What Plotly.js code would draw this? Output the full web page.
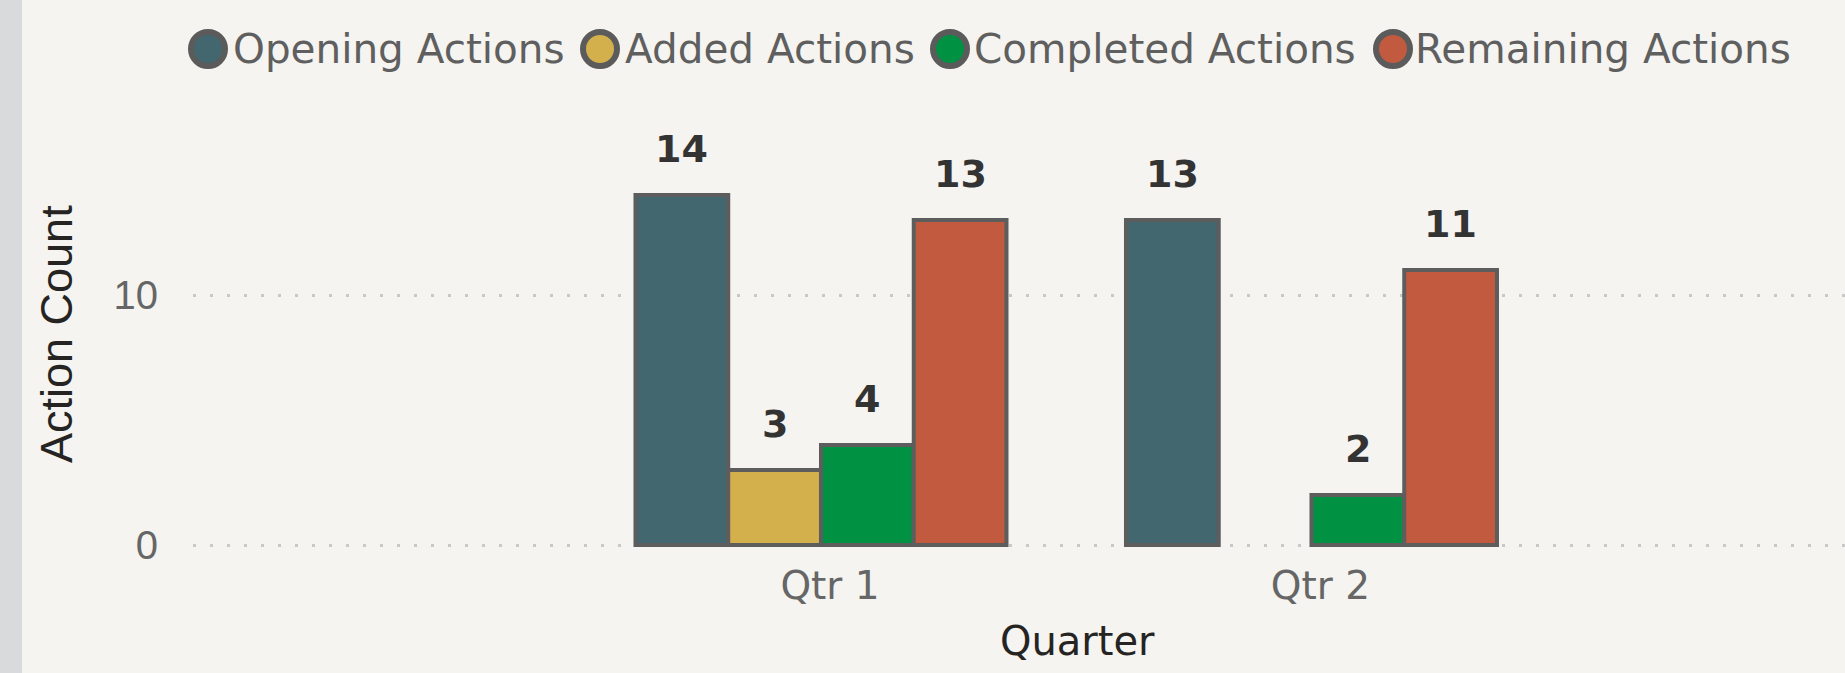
<!DOCTYPE html>
<html>
<head>
<meta charset="utf-8">
<script src="https://cdn.plot.ly/plotly-3.0.1.min.js"></script>
<style>
html,body{margin:0;padding:0;background:#f5f4f0;overflow:hidden;}
#chart{width:1845px;height:673px;}
</style>
</head>
<body>
<div id="chart"></div>
<script>
// ---- data ----
const categories = ['Qtr 1', 'Qtr 2'];
const seriesNames = ['Opening Actions', 'Added Actions', 'Completed Actions', 'Remaining Actions'];
const openingActions = [14, 13];
const addedActions = [3, null];
const completedActions = [4, 2];
const remainingActions = [13, 11];
const yTickValues = [0, 10];
const yTickLabels = ['0', '10'];

// ---- styling ----
const seriesColors = ['#42676f', '#d3b04c', '#009142', '#c25a3f'];
const seriesValues = [openingActions, addedActions, completedActions, remainingActions];
const W = 1845, H = 673;
const M = {l: 193, r: 0, t: 123, b: 126};
const plotW = W - M.l - M.r, plotH = H - M.t - M.b;
const px2x = p => (p - M.l) / plotW;
const py2y = p => (H - M.b - p) / plotH;
const BARGAP = 0.2436;
const nSeries = seriesNames.length;
const barW = (1 - BARGAP) / nSeries;

const traces = seriesNames.map((name, s) => ({
  type: 'bar',
  name: name,
  x: categories,
  y: seriesValues[s],
  marker: {color: seriesColors[s], line: {color: '#5d5d5d', width: 4}},
  hoverinfo: 'none',
  showlegend: false
}));

const annotations = [];
// data labels
seriesValues.forEach((vals, s) => {
  vals.forEach((v, j) => {
    if (v === null || v === undefined) return;
    annotations.push({
      x: j + (s - (nSeries - 1) / 2) * barW,
      y: v, xref: 'x', yref: 'y',
      text: String(v), showarrow: false,
      xanchor: 'center', yanchor: 'bottom', yshift: 22,
      font: {family: 'DejaVu Sans', size: 38, color: '#333333', weight: 'bold'}
    });
  });
});

// legend (custom, circle symbols)
const legendCircleX = [208, 600, 950, 1393];
const legendTextX = [231, 623, 972, 1413];
const legendY = 49;
const shapes = [{
  type: 'rect', xref: 'paper', yref: 'paper',
  x0: px2x(0), x1: px2x(22), y0: py2y(H), y1: py2y(0),
  fillcolor: '#d9dadc', line: {width: 0}, layer: 'below'
}];
seriesNames.forEach((name, s) => {
  shapes.push({
    type: 'circle', xref: 'paper', yref: 'paper',
    xsizemode: 'pixel', ysizemode: 'pixel',
    xanchor: px2x(legendCircleX[s]), yanchor: py2y(legendY),
    x0: -17, x1: 17, y0: -17, y1: 17,
    fillcolor: seriesColors[s], line: {color: '#5b5b5b', width: 6}
  });
  annotations.push({
    xref: 'paper', yref: 'paper', x: px2x(legendTextX[s]), y: py2y(legendY),
    xanchor: 'left', yanchor: 'middle', showarrow: false, text: name,
    font: {family: 'DejaVu Sans', size: 40.5, color: '#5f5f5f'}
  });
});

// axis titles
annotations.push({
  xref: 'paper', yref: 'paper', x: px2x(56), y: py2y(334),
  xanchor: 'center', yanchor: 'middle', textangle: -90, showarrow: false,
  text: 'Action Count',
  font: {family: 'Liberation Sans', size: 45, color: '#252423'}
});
annotations.push({
  xref: 'paper', yref: 'paper', x: px2x(1077), y: py2y(641),
  xanchor: 'center', yanchor: 'middle', showarrow: false,
  text: 'Quarter',
  font: {family: 'DejaVu Sans', size: 40, color: '#252423'}
});

const layout = {
  width: W, height: H,
  margin: {l: M.l, r: M.r, t: M.t, b: M.b, pad: 0},
  paper_bgcolor: '#f5f4f0', plot_bgcolor: '#f5f4f0',
  barmode: 'group', bargap: BARGAP, bargroupgap: 0,
  showlegend: false,
  xaxis: {
    type: 'category', range: [-1.2803, 2.0877],
    showgrid: false, zeroline: false, showline: false, ticks: '',
    tickfont: {family: 'DejaVu Sans', size: 39, color: '#666666'},
    ticklabelstandoff: 12, ticklabelshift: 9, fixedrange: true
  },
  yaxis: {
    range: [-0.08, 16.88], tickvals: yTickValues, ticktext: yTickLabels,
    showgrid: true, gridcolor: '#c9c9c7', gridwidth: 3, griddash: '3px,14px',
    zeroline: false, showline: false, ticks: '',
    tickfont: {family: 'Liberation Sans', size: 40, color: '#666666'},
    ticklabelstandoff: 34, fixedrange: true
  },
  shapes: shapes,
  annotations: annotations
};

Plotly.newPlot('chart', traces, layout, {displayModeBar: false, staticPlot: true});
</script>
</body>
</html>
